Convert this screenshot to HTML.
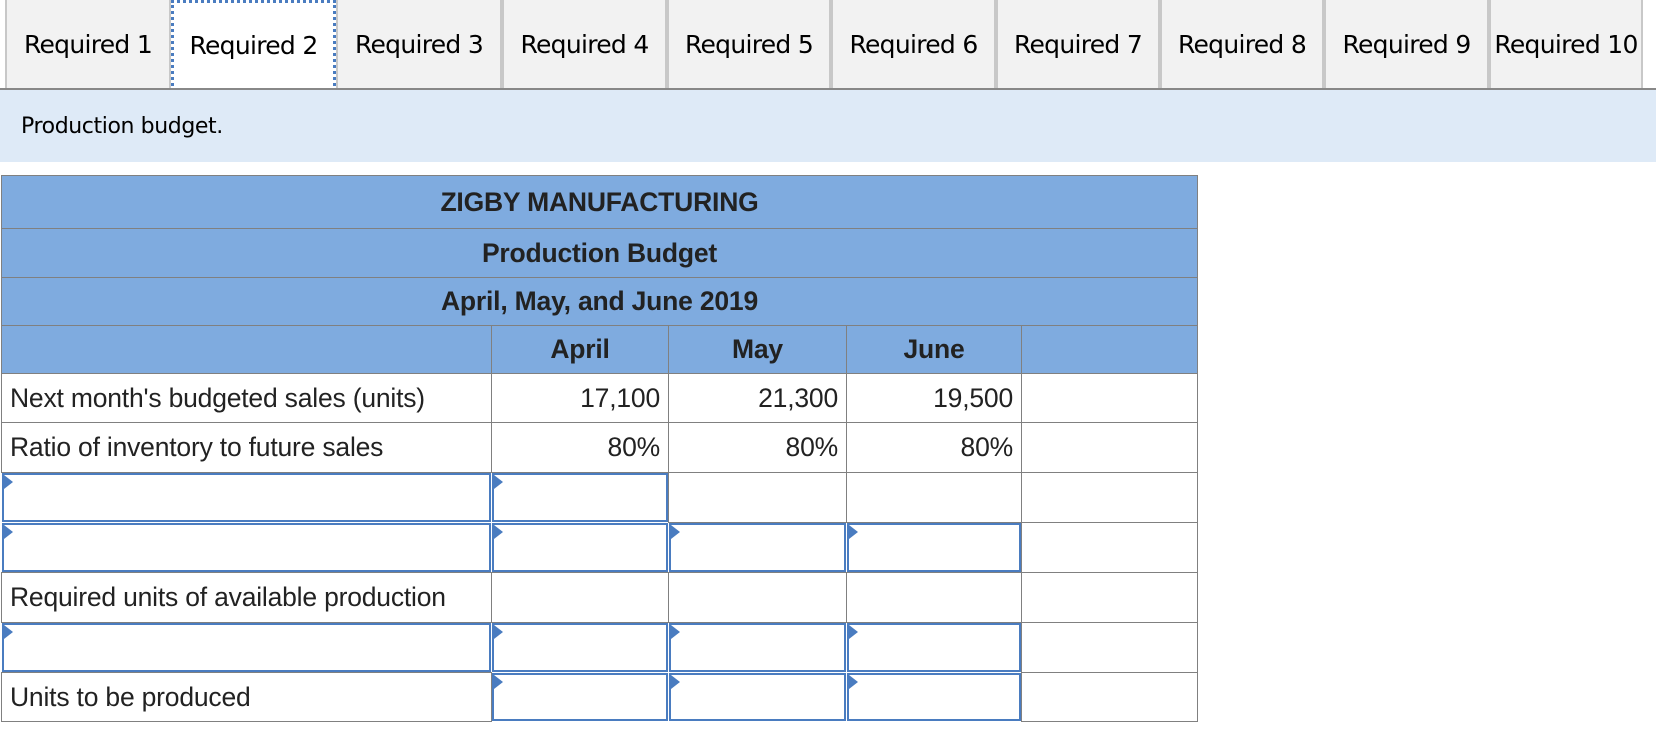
<!DOCTYPE html>
<html><head><meta charset="utf-8"><style>
body{margin:0;width:1656px;height:734px;background:#fff;position:relative;overflow:hidden;font-family:"Liberation Sans",Arial,sans-serif}
.tab{position:absolute;top:0;height:88px;background:#f2f2f2;border-left:2px solid #c8c8c8;border-right:2px solid #c8c8c8;box-sizing:border-box;font-family:"DejaVu Sans",Verdana,sans-serif;font-size:25px;color:#000;display:flex;align-items:center;justify-content:center;letter-spacing:-0.7px;white-space:nowrap}
.tab.active{background:#fff;border:3px dotted #4a7cc0;height:91px}
#tabline{position:absolute;top:88px;left:0;width:1656px;height:2px;background:#888}
#band{position:absolute;top:90px;left:0;width:1656px;height:72px;background:#deeaf7;font-family:"DejaVu Sans",Verdana,sans-serif;font-size:22px;letter-spacing:-0.4px;display:flex;align-items:center;padding-left:21px;box-sizing:border-box}
.c{position:absolute;box-sizing:border-box;border:1px solid #808080;font-size:26.5px;color:#222;display:flex;align-items:center;white-space:nowrap;letter-spacing:-0.2px}
.h{background:#7fabdf;font-weight:bold;justify-content:center}
.in{border:2px solid #4a7cc0;background:#fff}
.in::before{content:"";position:absolute;left:0;top:0;border-top:7px solid transparent;border-bottom:7px solid transparent;border-left:9px solid #4a7cc0}
</style></head><body>
<div id="tabs"></div>
<div id="tabline"></div>
<div id="band">Production budget.</div>
<div id="tbl"></div>
<script>
const tabNames=["Required 1","Required 2","Required 3","Required 4","Required 5","Required 6","Required 7","Required 8","Required 9","Required 10"];
const tabEdges=[5,171,336,502,667,831,996,1160,1324,1489,1643];
const tabs=document.getElementById('tabs');
tabNames.forEach((t,i)=>{const d=document.createElement('div');d.className='tab'+(i==1?' active':'');
d.style.left=tabEdges[i]+'px';d.style.width=(tabEdges[i+1]-tabEdges[i])+'px';d.textContent=t;


tabs.appendChild(d);});
const cols=[1,491,668,846,1021,1197];
const rows=[175,228,277,325,373,422,472,522,572,622,672,721];
const months=["April","May","June"];
const sales=["17,100","21,300","19,500"];
const ratios=["80%","80%","80%"];
const tbl=document.getElementById('tbl');
function cell(x1,x2,y1,y2,cls,txt,name,inter,align){const d=document.createElement('div');d.className='c '+cls;
d.style.left=x1+'px';d.style.width=(x2-x1+1)+'px';d.style.top=y1+'px';d.style.height=(y2-y1+1)+'px';
if(txt!==undefined)d.textContent=txt;
if(align=='r'){d.style.justifyContent='flex-end';d.style.paddingRight='8px';}
if(align=='l'){d.style.paddingLeft='8px';}


tbl.appendChild(d);return d;}
cell(1,1197,rows[0],rows[1],'h','ZIGBY MANUFACTURING','company-title',false);
cell(1,1197,rows[1],rows[2],'h','Production Budget','budget-title',false);
cell(1,1197,rows[2],rows[3],'h','April, May, and June 2019','period-title',false);
cell(cols[0],cols[1],rows[3],rows[4],'h','','header-blank',false);
months.forEach((m,i)=>cell(cols[i+1],cols[i+2],rows[3],rows[4],'h',m,'header-'+m.toLowerCase(),false));
cell(cols[4],cols[5],rows[3],rows[4],'h','','header-blank-right',false);
const labels=["Next month's budgeted sales (units)","Ratio of inventory to future sales",null,null,"Required units of available production",null,"Units to be produced"];
const inputs=[[0,0,0,0],[0,0,0,0],[1,1,0,0],[1,1,1,1],[0,0,0,0],[1,1,1,1],[0,1,1,1]];
labels.forEach((lab,r)=>{const y1=rows[r+4],y2=rows[r+5];
for(let c=0;c<5;c++){const isIn=c<4&&inputs[r][c];
let txt='';if(c==0&&lab)txt=lab;if(r==0&&c>0&&c<4)txt=sales[c-1];if(r==1&&c>0&&c<4)txt=ratios[c-1];
const x1=cols[c]+(isIn?1:0),x2=cols[c+1]-(isIn?1:0);
cell(x1,x2,y1+(isIn?1:0),y2-(isIn?1:0),isIn?'in':'',txt,(isIn?'input-':'cell-')+'r'+(r+1)+'-c'+(c+1),isIn,c==0?'l':'r');}
});
</script>
</body></html>
